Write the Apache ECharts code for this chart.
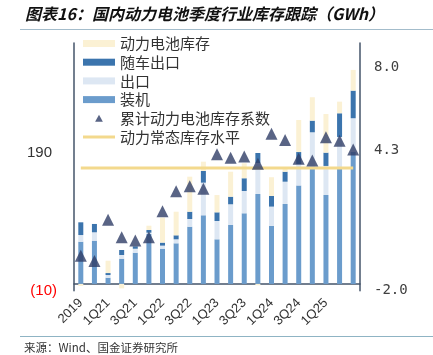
<!DOCTYPE html>
<html>
<head>
<meta charset="utf-8">
<script src="https://cdn.jsdelivr.net/npm/echarts@6/dist/echarts.min.js"></script>
<style>html,body{margin:0;padding:0;background:#fff;}#c{width:433px;height:355px;}</style>
</head>
<body>
<div id="c"></div>
<script>
var categories = ['2019','2020','1Q21','2Q21','3Q21','4Q21','1Q22','2Q22','3Q22','4Q22','1Q23','2Q23','3Q23','4Q23','1Q24','2Q24','3Q24','4Q24','1Q25','2Q25','3Q25'];
var installed = [61.3, 62.8, 9.0, 36.6, 45.3, 72.5, 51.2, 59.0, 83.1, 99.7, 64.8, 85.6, 102.6, 130.7, 84.2, 116.1, 143.0, 168.0, 129.2, 168.0, 191.7];
var exportOut = [9.7, 12.2, 3.9, 5.4, 5.8, 1.9, 4.4, 5.8, 11.2, 47.4, 26.6, 30.1, 32.4, 45.0, 28.1, 32.4, 31.2, 52.3, 42.2, 45.5, 49.0];
var vehicleExport = [18.5, 12.1, 2.9, 7.3, 3.5, 3.9, 4.4, 5.8, 10.6, 17.0, 12.6, 11.0, 18.5, 14.5, 15.5, 14.5, 17.4, 16.9, 19.3, 34.4, 40.1];
var inventory = [-3.0, 0, 17.9, -6.5, 0, 6.3, 36.3, 34.3, 50.9, 13.5, 25.1, 36.3, 21.8, -2.0, 27.2, 4.9, 46.5, 34.0, 56.1, 16.9, 30.1];
var invRatio = [-0.43, -0.67, 1.18, 0.40, 0.25, 0.40, 1.56, 2.46, 2.68, 2.57, 4.12, 3.96, 4.02, 3.69, 5.04, 4.75, 3.91, 3.84, 4.88, 4.72, 4.33];
var normalLevel = [3.5, 3.5, 3.5, 3.5, 3.5, 3.5, 3.5, 3.5, 3.5, 3.5, 3.5, 3.5, 3.5, 3.5, 3.5, 3.5, 3.5, 3.5, 3.5, 3.5, 3.5];
var leftTicks = [-10, 190];
var rightTicks = [-2, 4.3, 8];

var chart = echarts.init(document.getElementById('c'), null, {renderer: 'canvas'});
var axisColor = '#44546a';
var cjk = '"Noto Sans CJK SC", "Noto Sans", sans-serif';
var option = {
  animation: false,
  backgroundColor: '#fff',
  grid: {left: 74, right: 73, top: 43, bottom: 64.2, containLabel: false},
  legend: {
    orient: 'vertical', left: 83, top: 36, padding: 0,
    itemWidth: 32, itemHeight: 7, itemGap: 3.7, symbolKeepAspect: true,
    textStyle: {fontSize: 15, lineHeight: 15, color: '#333', fontFamily: cjk},
    data: [
      {name: '动力电池库存', icon: 'rect'},
      {name: '随车出口', icon: 'rect'},
      {name: '出口', icon: 'rect'},
      {name: '装机', icon: 'rect'},
      {name: '累计动力电池库存系数', icon: 'path://M5,0L10,9L0,9Z'},
      {name: '动力常态库存水平', icon: 'path://M0,0H32V3H0Z'}
    ]
  },
  xAxis: {
    type: 'category', data: categories, boundaryGap: true,
    axisLine: {onZero: true, onZeroAxisIndex: 0, lineStyle: {color: axisColor, width: 1.5}},
    axisTick: {show: false},
    axisLabel: {
      rotate: 45, fontSize: 13, color: '#333', margin: 10,
      fontFamily: '"Liberation Sans", Arial, sans-serif',
      interval: function (i) { return i % 2 === 0 && i < 20; }
    }
  },
  yAxis: [{
    type: 'value', min: -10, max: 350, position: 'left',
    splitLine: {show: false},
    axisTick: {show: false},
    axisLine: {show: true, lineStyle: {color: axisColor, width: 1.5}},
    axisLabel: {
      customValues: leftTicks, margin: 17,
      formatter: function (v) { return v < 0 ? '{r|(' + Math.abs(v) + ')}' : '{b|' + v + '}'; },
      rich: {
        r: {color: '#ff0000', fontSize: 15, fontFamily: '"Liberation Sans", Arial, sans-serif'},
        b: {color: '#333', fontSize: 15, padding: [0, 5, 0, 0], fontFamily: '"Liberation Sans", Arial, sans-serif'}
      }
    }
  }, {
    type: 'value', min: -2, max: 9.1, position: 'right',
    splitLine: {show: false},
    axisTick: {show: false},
    axisLine: {show: true, lineStyle: {color: axisColor, width: 1.5}},
    axisLabel: {
      customValues: rightTicks, margin: 14, color: '#404040', fontSize: 14,
      fontFamily: '"DejaVu Sans Mono", monospace',
      formatter: function (v) { return v.toFixed(1); }
    }
  }],
  series: [
    {name: '装机', type: 'bar', stack: 'a', barWidth: 5, data: installed, itemStyle: {color: '#6b9ccc'}},
    {name: '出口', type: 'bar', stack: 'a', barWidth: 5, data: exportOut, itemStyle: {color: '#dde7f3'}},
    {name: '随车出口', type: 'bar', stack: 'a', barWidth: 5, data: vehicleExport, itemStyle: {color: '#3b74ad'}},
    {name: '动力电池库存', type: 'bar', stack: 'a', barWidth: 5, data: inventory, itemStyle: {color: '#fbf1d4'}},
    {name: '动力常态库存水平', type: 'line', yAxisIndex: 1, data: normalLevel, symbol: 'none', z: 3,
      lineStyle: {color: '#f3d98d', width: 3}, itemStyle: {color: '#f3d98d'}},
    {name: '累计动力电池库存系数', type: 'scatter', yAxisIndex: 1, data: invRatio, symbol: 'triangle', symbolSize: 12, z: 4,
      itemStyle: {color: '#2f3d66'}}
  ],
  graphic: [
    {type: 'text', left: 25, top: 6, style: {text: '图表16：国内动力电池季度行业库存跟踪（GWh）', fontSize: 16, fontWeight: 'bold', fontStyle: 'italic', fill: '#111', fontFamily: cjk}},
    {type: 'line', shape: {x1: 20, y1: 29.5, x2: 433, y2: 29.5}, style: {stroke: '#a3bccb', lineWidth: 1}},
    {type: 'line', shape: {x1: 20, y1: 336.5, x2: 433, y2: 336.5}, style: {stroke: '#8fb4c4', lineWidth: 1}},
    {type: 'text', left: 24, top: 342, style: {text: '来源：Wind、国金证券研究所', fontSize: 11.5, fill: '#333', fontFamily: cjk}}
  ]
};
chart.setOption(option);
</script>
</body>
</html>
